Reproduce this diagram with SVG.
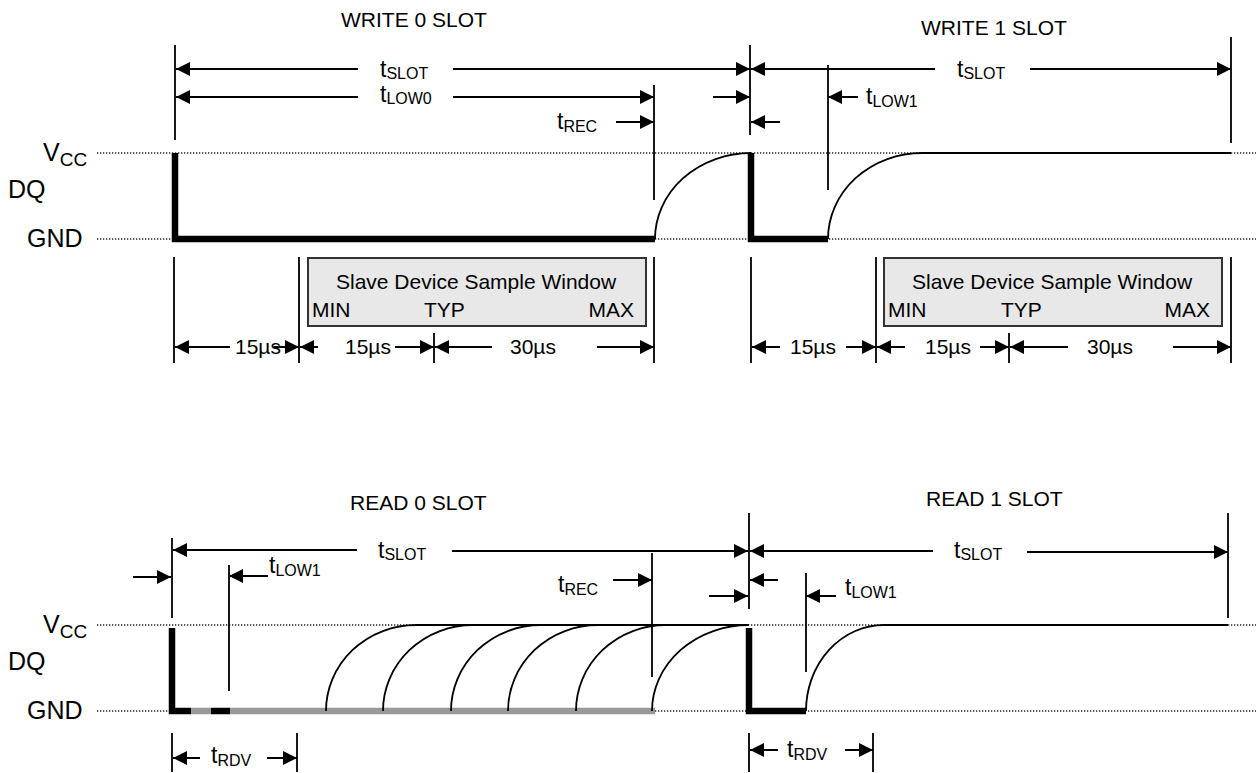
<svg xmlns="http://www.w3.org/2000/svg" width="1256" height="773" viewBox="0 0 1256 773">
<style>
text{font-family:"Liberation Sans",Arial,sans-serif;font-size:21px;fill:#000}
.t{font-size:23px}
.sub{font-size:16px}
.ax{font-size:25px}
.axs{font-size:19px}
.dot{stroke:#222;stroke-width:1.3;stroke-dasharray:1.3 1.7;fill:none}
.thin{stroke:#000;stroke-width:1.8;fill:none}
.arr{stroke:#000;stroke-width:2;fill:none;marker-end:url(#ah)}
.thick{stroke:#000;stroke-width:6.5;fill:none;stroke-linejoin:miter;stroke-linecap:butt}
.gray{stroke:#999;stroke-width:6.5;fill:none}
.box{fill:#e8e8e8;stroke:#333;stroke-width:2}
</style>
<defs>
<marker id="ah" markerUnits="userSpaceOnUse" markerWidth="15" markerHeight="14" refX="14" refY="7" orient="auto">
<path d="M0,0 L14,7 L0,14 z" fill="#000"/>
</marker>
</defs>
<rect width="1256" height="773" fill="#fff"/>

<g id="levels">
<path class="dot" d="M97,153 H1256 M97,239 H1256 M97,625 H1256 M97,711 H1256"/>
</g>

<g id="labels">
<text x="341" y="27">WRITE 0 SLOT</text>
<text x="921" y="35">WRITE 1 SLOT</text>
<text x="350" y="510">READ 0 SLOT</text>
<text x="926" y="506">READ 1 SLOT</text>
<text class="ax" x="43" y="161">V<tspan class="axs" dy="5">CC</tspan></text>
<text class="ax" x="8" y="198">DQ</text>
<text class="ax" x="27" y="247">GND</text>
<text class="ax" x="43" y="633">V<tspan class="axs" dy="5">CC</tspan></text>
<text class="ax" x="8" y="670">DQ</text>
<text class="ax" x="27" y="719">GND</text>
</g>

<g id="write0">
<rect class="box" x="308" y="258" width="338" height="68"/>
<text x="336" y="289">Slave Device Sample Window</text>
<text x="312" y="317">MIN</text>
<text x="424" y="317">TYP</text>
<text x="634" y="317" text-anchor="end">MAX</text>
<path class="thin" d="M655,239 A96,86 0 0 1 751,153"/>
<path class="thick" d="M175,153 V239 H655"/>
<text class="t" x="380" y="77">t<tspan class="sub" dy="2">SLOT</tspan></text>
<text class="t" x="380" y="102">t<tspan class="sub" dy="2">LOW0</tspan></text>
<text class="t" x="557" y="129">t<tspan class="sub" dy="3">REC</tspan></text>
<text x="235" y="354">15µs</text>
<text x="345" y="354">15µs</text>
<text x="510" y="354">30µs</text>
</g>

<g id="write1">
<rect class="box" x="884" y="258" width="338" height="68"/>
<text x="912" y="289">Slave Device Sample Window</text>
<text x="888" y="317">MIN</text>
<text x="1001" y="317">TYP</text>
<text x="1210" y="317" text-anchor="end">MAX</text>
<path class="thin" d="M828,239 A94,86 0 0 1 922,153 H1231"/>
<path class="thick" d="M751,153 V239 H828"/>
<text class="t" x="957" y="77">t<tspan class="sub" dy="2">SLOT</tspan></text>
<text class="t" x="866" y="104">t<tspan class="sub" dy="3">LOW1</tspan></text>
<text x="790" y="354">15µs</text>
<text x="925" y="354">15µs</text>
<text x="1087" y="354">30µs</text>
</g>

<g id="read0">
<path class="gray" d="M191,711 H211 M230,711 H655"/>
<path class="thick" d="M172,628 V711 H191 M211,711 H230"/>
<path class="thin" d="M326,711 A90,86 0 0 1 416,625 M383,711 A90,86 0 0 1 473,625 M451,711 A90,86 0 0 1 541,625 M508,711 A90,86 0 0 1 598,625 M576,711 A90,86 0 0 1 666,625 M652,711 A97,86 0 0 1 749,625 M416,625 H749"/>
<text class="t" x="378" y="558">t<tspan class="sub" dy="2">SLOT</tspan></text>
<text class="t" x="269" y="573">t<tspan class="sub" dy="3">LOW1</tspan></text>
<text class="t" x="558" y="592">t<tspan class="sub" dy="3">REC</tspan></text>
<text class="t" x="211" y="763">t<tspan class="sub" dy="3">RDV</tspan></text>
</g>

<g id="read1">
<path class="thin" d="M806,711 A78,86 0 0 1 884,625 H1228"/>
<path class="thick" d="M749,628 V711 H806"/>
<text class="t" x="954" y="558">t<tspan class="sub" dy="2">SLOT</tspan></text>
<text class="t" x="845" y="595">t<tspan class="sub" dy="3">LOW1</tspan></text>
<text class="t" x="787" y="757">t<tspan class="sub" dy="3">RDV</tspan></text>
</g>

<g id="connectors">
<path class="thin" d="M175,45 V140 M750,45 V135 M654,85 V200 M828,65 V190 M1231,37 V143"/>
<path class="thin" d="M174,257 V363 M299,257 V363 M654,257 V363 M434,333 V363 M751,257 V363 M876,257 V363 M1231,257 V363 M1009,333 V363"/>
<line class="arr" x1="358" y1="69" x2="176" y2="69"/>
<line class="arr" x1="453" y1="69" x2="750" y2="69"/>
<line class="arr" x1="935" y1="69" x2="751" y2="69"/>
<line class="arr" x1="1030" y1="69" x2="1231" y2="69"/>
<line class="arr" x1="358" y1="97" x2="176" y2="97"/>
<line class="arr" x1="453" y1="97" x2="654" y2="97"/>
<line class="arr" x1="713" y1="97" x2="750" y2="97"/>
<line class="arr" x1="616" y1="122" x2="654" y2="122"/>
<line class="arr" x1="780" y1="122" x2="751" y2="122"/>
<line class="arr" x1="858" y1="97" x2="828" y2="97"/>
<line class="arr" x1="230" y1="347" x2="175" y2="347"/>
<line class="arr" x1="274" y1="347" x2="299" y2="347"/>
<line class="arr" x1="318" y1="347" x2="300" y2="347"/>
<line class="arr" x1="395" y1="347" x2="434" y2="347"/>
<line class="arr" x1="492" y1="347" x2="435" y2="347"/>
<line class="arr" x1="597" y1="347" x2="654" y2="347"/>
<line class="arr" x1="780" y1="347" x2="752" y2="347"/>
<line class="arr" x1="846" y1="347" x2="876" y2="347"/>
<line class="arr" x1="905" y1="347" x2="877" y2="347"/>
<line class="arr" x1="980" y1="347" x2="1009" y2="347"/>
<line class="arr" x1="1068" y1="347" x2="1010" y2="347"/>
<line class="arr" x1="1173" y1="347" x2="1231" y2="347"/>
<path class="thin" d="M172,538 V618 M229,565 V691 M652,553 V677 M749,513 V609 M806,573 V672 M1228,513 V618"/>
<path class="thin" d="M172,733 V772 M297,733 V772 M749,733 V772 M873,733 V772"/>
<line class="arr" x1="357" y1="550" x2="173" y2="550"/>
<line class="arr" x1="452" y1="551" x2="748" y2="551"/>
<line class="arr" x1="133" y1="577" x2="171" y2="577"/>
<line class="arr" x1="268" y1="576" x2="229" y2="576"/>
<line class="arr" x1="613" y1="580" x2="652" y2="580"/>
<line class="arr" x1="709" y1="596" x2="748" y2="596"/>
<line class="arr" x1="933" y1="551" x2="750" y2="551"/>
<line class="arr" x1="778" y1="580" x2="750" y2="580"/>
<line class="arr" x1="836" y1="596" x2="806" y2="596"/>
<line class="arr" x1="1027" y1="552" x2="1228" y2="552"/>
<line class="arr" x1="200" y1="758" x2="173" y2="758"/>
<line class="arr" x1="267" y1="758" x2="297" y2="758"/>
<line class="arr" x1="778" y1="750" x2="750" y2="750"/>
<line class="arr" x1="845" y1="750" x2="873" y2="750"/>
</g>
</svg>
